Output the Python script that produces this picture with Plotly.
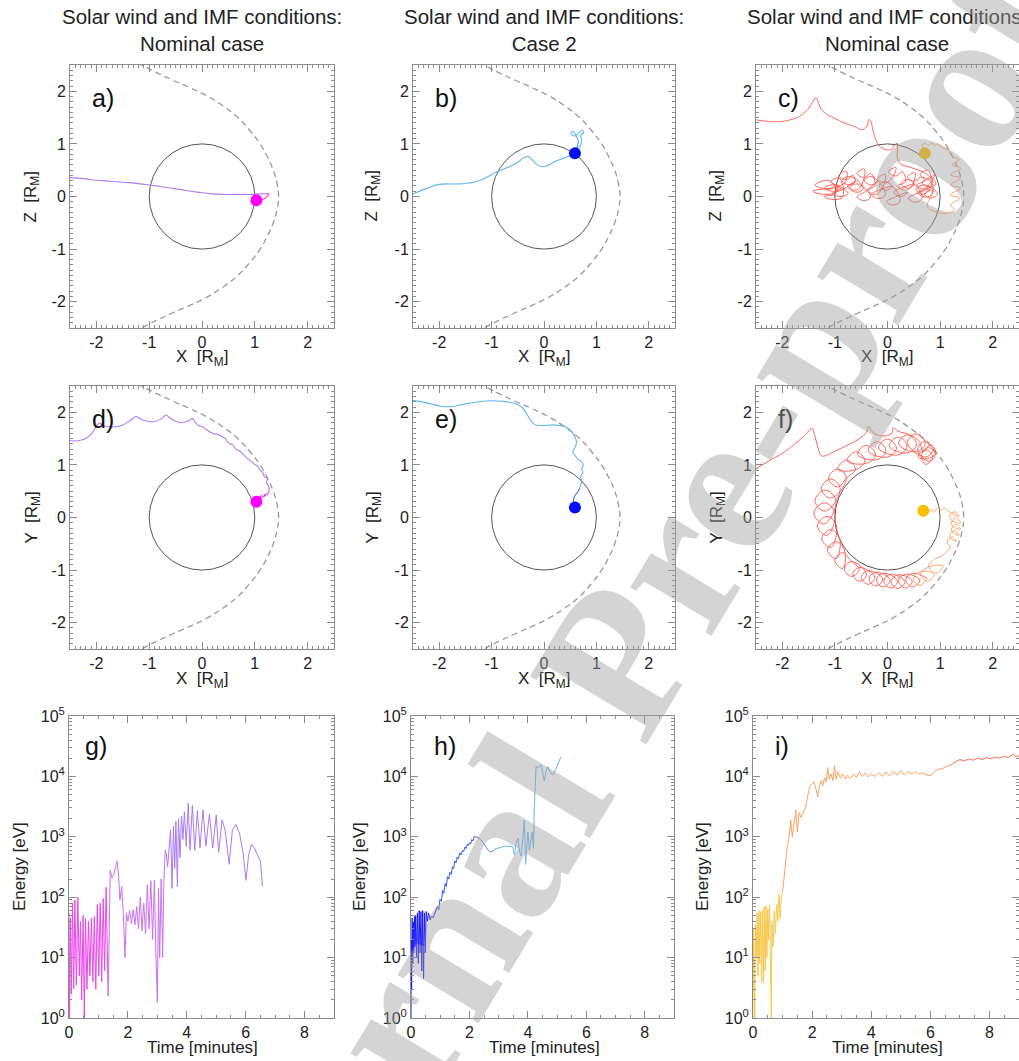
import plotly.graph_objects as go

# ---------------- data ----------------
col_titles = ["Solar wind and IMF conditions:<br>Nominal case",
              "Solar wind and IMF conditions:<br>Case 2",
              "Solar wind and IMF conditions:<br>Nominal case"]
panel_labels = ["a)", "b)", "c)", "d)", "e)", "f)", "g)", "h)", "i)"]
pos_ticks = [-2, -1, 0, 1, 2]
pos_ticklabels = ["-2", "-1", "0", "1", "2"]
time_ticks = [0, 2, 4, 6, 8]
energy_ticks = [1, 10, 100, 1000, 10000, 100000]
energy_ticklabels = ["10<sup>0</sup>", "10<sup>1</sup>", "10<sup>2</sup>",
                     "10<sup>3</sup>", "10<sup>4</sup>", "10<sup>5</sup>"]
planet_r = 1.0

# magnetopause (x, y)
magnetopause = [(-1.30, -2.58), (-1.05, -2.45), (-0.85, -2.35), (-0.55, -2.21), (-0.23, -2.07),
                (0.10, -1.91), (0.40, -1.72), (0.68, -1.50), (0.91, -1.25), (1.10, -1.00),
                (1.24, -0.75), (1.35, -0.50), (1.42, -0.25), (1.45, 0.00), (1.42, 0.25),
                (1.35, 0.50), (1.24, 0.75), (1.10, 1.00), (0.91, 1.25), (0.68, 1.50),
                (0.40, 1.72), (0.10, 1.91), (-0.23, 2.07), (-0.55, 2.21), (-0.85, 2.35),
                (-1.05, 2.45), (-1.30, 2.58)]

# panel a (X, Z) nominal case
a_start = (1.03, -0.07)
a_traj = [(1.03, -0.07), (1.10, -0.07), (1.17, -0.05), (1.22, -0.01), (1.27, 0.04),
          (1.22, 0.05), (1.10, 0.05), (0.95, 0.04), (0.80, 0.04), (0.60, 0.04), (0.40, 0.04),
          (0.20, 0.05), (0.00, 0.07), (-0.20, 0.10), (-0.40, 0.13), (-0.60, 0.16), (-0.80, 0.19),
          (-1.00, 0.22), (-1.25, 0.25), (-1.50, 0.27), (-1.75, 0.29), (-2.00, 0.31),
          (-2.25, 0.34), (-2.52, 0.36)]
# panel d (X, Y) nominal case
d_start = (1.03, 0.30)
d_traj = [(1.03, 0.30), (1.08, 0.38), (1.12, 0.42), (1.10, 0.36), (1.16, 0.40), (1.20, 0.45),
          (1.17, 0.40), (1.23, 0.44), (1.27, 0.50), (1.26, 0.60), (1.22, 0.66), (1.24, 0.74),
          (1.18, 0.78), (1.15, 0.86), (1.10, 0.90), (1.05, 0.98), (0.98, 1.02), (0.92, 1.08),
          (0.86, 1.12), (0.78, 1.20), (0.72, 1.26), (0.64, 1.30), (0.58, 1.38), (0.50, 1.42),
          (0.44, 1.50), (0.32, 1.57), (0.20, 1.60), (0.10, 1.66), (0.02, 1.72), (-0.05, 1.74),
          (-0.12, 1.80), (-0.18, 1.88), (-0.25, 1.84), (-0.40, 1.80), (-0.52, 1.84), (-0.62, 1.90),
          (-0.68, 1.95), (-0.78, 1.87), (-0.92, 1.82), (-1.08, 1.84), (-1.18, 1.88), (-1.25, 1.92),
          (-1.35, 1.85), (-1.50, 1.76), (-1.68, 1.72), (-1.85, 1.74), (-1.95, 1.79), (-2.02, 1.70),
          (-2.10, 1.58), (-2.20, 1.50), (-2.35, 1.46), (-2.52, 1.46)]
# panel b (X, Z) case 2
b_start = (0.59, 0.82)
b_traj = [(0.59, 0.82), (0.62, 0.90), (0.66, 1.05), (0.60, 1.18), (0.55, 1.24), (0.52, 1.20),
          (0.58, 1.15), (0.66, 1.20), (0.72, 1.26), (0.76, 1.22), (0.70, 1.16), (0.72, 1.08),
          (0.70, 0.98), (0.62, 0.85), (0.50, 0.78), (0.35, 0.72), (0.20, 0.66), (0.05, 0.58),
          (-0.05, 0.57), (-0.15, 0.62), (-0.25, 0.72), (-0.30, 0.76), (-0.38, 0.74), (-0.50, 0.65),
          (-0.65, 0.57), (-0.90, 0.47), (-1.10, 0.36), (-1.30, 0.28), (-1.60, 0.24), (-2.00, 0.23),
          (-2.25, 0.15), (-2.52, 0.04)]
# panel e (X, Y) case 2
e_start = (0.59, 0.19)
e_traj = [(0.59, 0.19), (0.56, 0.30), (0.58, 0.40), (0.64, 0.48), (0.68, 0.55), (0.70, 0.62),
          (0.72, 0.70), (0.70, 0.78), (0.74, 0.85), (0.72, 0.92), (0.75, 1.00), (0.72, 1.06),
          (0.66, 1.10), (0.60, 1.17), (0.55, 1.26), (0.60, 1.35), (0.62, 1.45), (0.58, 1.55),
          (0.52, 1.64), (0.42, 1.72), (0.30, 1.75), (0.15, 1.76), (0.00, 1.75), (-0.15, 1.76),
          (-0.22, 1.80), (-0.30, 1.92), (-0.38, 2.05), (-0.47, 2.13), (-0.60, 2.18), (-0.80, 2.21),
          (-1.00, 2.22), (-1.25, 2.20), (-1.50, 2.16), (-1.75, 2.11), (-1.95, 2.11), (-2.20, 2.17),
          (-2.52, 2.23)]
# panel c (X, Z) nominal case, high energy
c_start = (0.71, 0.82)
c_orange = [(0.71, 0.82), (0.68, 0.92), (0.66, 0.98), (0.72, 1.01), (0.78, 0.97), (0.84, 1.02),
            (0.90, 0.97), (0.96, 1.00), (1.04, 0.93), (1.14, 0.89), (1.23, 0.76), (1.36, 0.70),
            (1.23, 0.60), (1.39, 0.54), (1.20, 0.41), (1.39, 0.35), (1.20, 0.22), (1.39, 0.16),
            (1.19, 0.03), (1.38, -0.03), (1.20, -0.16), (1.27, -0.25), (1.08, -0.32), (0.89, -0.28),
            (0.76, -0.19), (0.79, -0.06), (0.85, 0.05)]
c_red = [(0.85, 0.05),
         (0.85, 0.12), (0.70, 0.05), (0.82, -0.03), (0.95, 0.05),
         (0.68, 0.22), (0.55, 0.13), (0.68, 0.04), (0.80, 0.14),
         (0.54, 0.05), (0.40, -0.03), (0.54, -0.11), (0.66, -0.02),
         (0.40, 0.32), (0.26, 0.24), (0.40, 0.16), (0.52, 0.24),
         (0.26, 0.16), (0.12, 0.08), (0.26, 0.00), (0.38, 0.08),
         (0.12, -0.02), (-0.02, -0.10), (0.12, -0.16), (0.24, -0.08),
         (-0.02, 0.28), (-0.16, 0.20), (-0.02, 0.12), (0.10, 0.20),
         (-0.16, 0.12), (-0.30, 0.04), (-0.16, -0.04), (-0.04, 0.04),
         (-0.30, 0.38), (-0.44, 0.30), (-0.30, 0.22), (-0.18, 0.30),
         (-0.44, 0.08), (-0.58, 0.00), (-0.44, -0.08), (-0.32, 0.00),
         (-0.58, 0.24), (-0.72, 0.16), (-0.58, 0.08), (-0.46, 0.16),
         (-0.72, 0.38), (-0.86, 0.30), (-0.72, 0.22), (-0.60, 0.30),
         (-0.88, 0.12), (-1.05, 0.06), (-0.88, 0.00), (-0.75, 0.06),
         (-1.02, 0.22), (-1.20, 0.16), (-1.02, 0.10), (-0.88, 0.16),
         (-1.15, 0.15), (-1.42, 0.10), (-1.15, 0.04), (-0.98, 0.10),
         (-1.10, 0.30), (-1.38, 0.22), (-1.10, 0.14), (-0.95, 0.22),
         (-1.00, 0.05), (-1.20, 0.00), (-1.00, -0.06), (-0.85, 0.00),
         (-0.92, 0.35), (-1.08, 0.28), (-0.92, 0.21), (-0.80, 0.28),
         (-0.78, 0.48), (-0.92, 0.40), (-0.78, 0.32), (-0.66, 0.40),
         (-0.62, 0.28), (-0.76, 0.20), (-0.62, 0.12), (-0.50, 0.20),
         (-0.44, 0.52), (-0.58, 0.44), (-0.44, 0.36), (-0.32, 0.44),
         (-0.24, 0.20), (-0.38, 0.12), (-0.24, 0.04), (-0.12, 0.12),
         (-0.04, 0.42), (-0.18, 0.34), (-0.04, 0.26), (0.08, 0.34),
         (0.16, 0.55), (0.02, 0.47), (0.16, 0.39), (0.28, 0.47),
         (0.34, 0.28), (0.20, 0.20), (0.34, 0.12), (0.46, 0.20),
         (0.52, 0.45), (0.38, 0.37), (0.52, 0.29), (0.64, 0.37),
         (0.70, 0.30), (0.56, 0.22), (0.70, 0.14), (0.84, 0.22),
         (0.76, 0.50), (0.62, 0.42), (0.76, 0.34), (0.90, 0.42),
         (0.72, 0.15), (0.58, 0.07), (0.72, -0.01), (0.86, 0.07),
         (0.80, 0.32), (0.66, 0.26), (0.80, 0.18), (0.92, 0.24),
         (0.70, 0.45), (0.45, 0.55), (0.25, 0.62), (0.19, 0.72), (0.19, 0.90), (0.19, 1.01),
         (0.13, 0.98), (0.06, 0.89), (-0.10, 0.92), (-0.19, 1.01), (-0.28, 1.27), (-0.32, 1.44),
         (-0.36, 1.46), (-0.38, 1.36), (-0.47, 1.27), (-0.63, 1.33), (-0.82, 1.40), (-1.01, 1.49),
         (-1.18, 1.58), (-1.27, 1.68), (-1.32, 1.80), (-1.36, 1.88), (-1.43, 1.78), (-1.52, 1.65),
         (-1.68, 1.52), (-1.84, 1.46), (-2.00, 1.43), (-2.15, 1.42), (-2.30, 1.43), (-2.52, 1.46)]
# panel f (X, Y) nominal case, high energy
f_start = (0.68, 0.13)
f_orange = [(0.68, 0.13), (0.75, 0.08), (0.82, 0.15), (0.88, 0.10), (0.95, 0.18), (1.02, 0.14),
            (1.08, 0.18), (1.16, 0.12),
            (1.36, 0.02), (1.27, 0.11), (1.18, 0.00), (1.27, -0.08),
            (1.39, -0.10), (1.30, -0.01), (1.21, -0.12), (1.30, -0.20),
            (1.39, -0.22), (1.30, -0.13), (1.21, -0.24), (1.30, -0.32),
            (1.36, -0.34), (1.27, -0.25), (1.18, -0.36), (1.27, -0.44),
            (1.31, -0.46), (1.22, -0.37), (1.13, -0.48), (1.20, -0.56),
            (1.12, -0.65), (1.05, -0.72),
            (0.92, -0.78), (0.78, -0.92), (0.92, -1.06), (1.06, -0.92),
            (0.76, -0.95), (0.63, -1.08), (0.76, -1.21), (0.89, -1.08),
            (0.62, -1.03), (0.49, -1.16), (0.62, -1.29), (0.75, -1.16)]
f_red = [(0.75, -1.16),
         (0.48, -1.06), (0.35, -1.19), (0.48, -1.32), (0.61, -1.19),
         (0.34, -1.08), (0.21, -1.21), (0.34, -1.34), (0.47, -1.21),
         (0.20, -1.09), (0.07, -1.22), (0.20, -1.35), (0.33, -1.22),
         (0.06, -1.08), (-0.07, -1.21), (0.06, -1.34), (0.19, -1.21),
         (-0.08, -1.06), (-0.21, -1.19), (-0.08, -1.32), (0.05, -1.19),
         (-0.22, -1.04), (-0.35, -1.17), (-0.22, -1.30), (-0.09, -1.17),
         (-0.37, -1.01), (-0.50, -1.14), (-0.37, -1.27), (-0.24, -1.14),
         (-0.53, -0.95), (-0.66, -1.08), (-0.53, -1.21), (-0.40, -1.08),
         (-0.68, -0.84), (-0.82, -0.98), (-0.68, -1.12), (-0.54, -0.98),
         (-0.70, -0.82), (-0.85, -0.67), (-1.00, -0.82), (-0.85, -0.97),
         (-0.82, -0.62), (-0.98, -0.46), (-1.14, -0.62), (-0.98, -0.78),
         (-0.91, -0.40), (-1.08, -0.23), (-1.25, -0.40), (-1.08, -0.57),
         (-0.97, -0.16), (-1.15, 0.02), (-1.33, -0.16), (-1.15, -0.34),
         (-1.00, 0.08), (-1.20, 0.28), (-1.40, 0.08), (-1.20, -0.12),
         (-0.98, 0.32), (-1.18, 0.52), (-1.38, 0.32), (-1.18, 0.12),
         (-0.90, 0.55), (-1.08, 0.73), (-1.26, 0.55), (-1.08, 0.37),
         (-0.78, 0.75), (-0.95, 0.92), (-1.12, 0.75), (-0.95, 0.58),
         (-0.78, 0.75), (-0.61, 0.92), (-0.78, 1.09), (-0.95, 0.92),
         (-0.60, 0.91), (-0.43, 1.08), (-0.60, 1.25), (-0.77, 1.08),
         (-0.40, 1.03), (-0.23, 1.20), (-0.40, 1.37), (-0.57, 1.20),
         (-0.20, 1.10), (-0.03, 1.27), (-0.20, 1.44), (-0.37, 1.27),
         (0.00, 1.15), (0.17, 1.32), (0.00, 1.49), (-0.17, 1.32),
         (0.20, 1.19), (0.37, 1.36), (0.20, 1.53), (0.03, 1.36),
         (0.38, 1.23), (0.55, 1.40), (0.38, 1.57), (0.21, 1.40),
         (0.55, 1.25), (0.72, 1.42), (0.55, 1.59), (0.38, 1.42),
         (0.72, 1.15), (0.87, 1.30), (0.72, 1.45), (0.57, 1.30),
         (0.78, 1.07), (0.91, 1.20), (0.78, 1.33), (0.65, 1.20),
         (0.72, 1.01), (0.86, 1.15), (0.72, 1.29), (0.58, 1.15),
         (0.80, 1.13), (0.92, 1.25), (0.80, 1.37), (0.68, 1.25),
         (0.60, 1.45), (0.40, 1.58), (0.20, 1.64), (0.11, 1.70), (0.08, 1.60), (-0.10, 1.55),
         (-0.28, 1.62), (-0.36, 1.73), (-0.40, 1.62), (-0.52, 1.51), (-0.75, 1.38), (-0.96, 1.28),
         (-1.12, 1.20), (-1.25, 1.17), (-1.32, 1.32), (-1.38, 1.55), (-1.44, 1.70), (-1.52, 1.62),
         (-1.70, 1.45), (-2.00, 1.22), (-2.25, 1.08), (-2.52, 0.91)]

# energy vs time (minutes, eV)
g_energy = [(0.00, 55), (0.02, 1.0), (0.05, 45), (0.08, 2.5), (0.12, 80), (0.16, 3.0), (0.20, 90),
            (0.25, 3.5), (0.30, 100), (0.35, 5), (0.39, 40), (0.43, 2.0), (0.48, 50), (0.52, 1.0),
            (0.56, 45), (0.61, 3), (0.66, 40), (0.71, 5), (0.76, 45), (0.81, 4), (0.86, 48), (0.91, 3),
            (0.96, 75), (1.01, 5), (1.06, 80), (1.11, 4), (1.16, 95), (1.21, 6), (1.26, 145),
            (1.33, 2.3), (1.40, 280), (1.46, 210), (1.52, 240), (1.57, 300), (1.63, 400), (1.68, 250),
            (1.73, 90), (1.79, 150), (1.84, 60), (1.90, 10), (1.95, 55), (2.00, 40), (2.06, 60),
            (2.12, 36), (2.18, 62), (2.24, 35), (2.30, 70), (2.36, 30), (2.42, 100), (2.48, 28),
            (2.54, 80), (2.60, 25), (2.66, 160), (2.72, 30), (2.78, 185), (2.84, 20), (2.90, 190),
            (2.95, 12), (3.00, 1.8), (3.04, 140), (3.08, 10), (3.13, 200), (3.18, 10), (3.22, 170),
            (3.27, 600), (3.31, 500), (3.35, 320), (3.40, 700), (3.45, 1300), (3.50, 140),
            (3.55, 1500), (3.59, 300), (3.63, 1800), (3.68, 150), (3.72, 2000), (3.77, 450),
            (3.82, 2200), (3.87, 900), (3.92, 2600), (3.98, 700), (4.05, 3600), (4.11, 600),
            (4.19, 3300), (4.27, 600), (4.36, 2700), (4.45, 650), (4.55, 2800), (4.65, 700),
            (4.77, 2400), (4.88, 650), (5.00, 2300), (5.08, 550), (5.20, 1900), (5.30, 1300),
            (5.44, 350), (5.55, 1300), (5.67, 1600), (5.80, 1100), (5.92, 500), (6.01, 190),
            (6.10, 500), (6.20, 750), (6.30, 650), (6.40, 500), (6.50, 400), (6.57, 150)]
h_energy = [(0.00, 1.0), (0.01, 20), (0.02, 3), (0.04, 45), (0.06, 8), (0.08, 40), (0.10, 12),
            (0.12, 48), (0.14, 15), (0.16, 50), (0.19, 10), (0.22, 55), (0.25, 8), (0.28, 60),
            (0.31, 12), (0.34, 58), (0.37, 6), (0.40, 60), (0.43, 4.5), (0.46, 55), (0.49, 12),
            (0.52, 58), (0.56, 40), (0.60, 55), (0.65, 42), (0.70, 48), (0.76, 46), (0.82, 55),
            (0.90, 70), (0.95, 62), (0.99, 92), (1.04, 85), (1.08, 130), (1.12, 115), (1.17, 170),
            (1.21, 150), (1.25, 220), (1.29, 200), (1.33, 260), (1.38, 240), (1.42, 320), (1.46, 300),
            (1.50, 400), (1.54, 370), (1.58, 460), (1.62, 430), (1.67, 540), (1.71, 500), (1.76, 600),
            (1.80, 570), (1.85, 680), (1.89, 640), (1.93, 760), (1.97, 720), (2.00, 800), (2.04, 760),
            (2.08, 900), (2.12, 850), (2.16, 1000), (2.24, 1000), (2.32, 940), (2.40, 880),
            (2.48, 780), (2.56, 680), (2.64, 600), (2.72, 560), (2.80, 580), (2.90, 640), (3.00, 650),
            (3.10, 680), (3.20, 700), (3.30, 700), (3.40, 690), (3.48, 680), (3.54, 500), (3.60, 800),
            (3.66, 950), (3.72, 550), (3.77, 480), (3.82, 900), (3.88, 1900), (3.92, 350),
            (3.96, 800), (4.00, 1200), (4.05, 600), (4.10, 900), (4.15, 1200), (4.19, 650),
            (4.22, 3000), (4.28, 14500), (4.36, 14000), (4.45, 15500), (4.50, 11000), (4.56, 8500),
            (4.62, 12000), (4.68, 14500), (4.75, 12000), (4.85, 10500), (4.95, 13000), (5.05, 17000),
            (5.13, 21000)]
i_energy = [(0.00, 1.0), (0.02, 30), (0.04, 6), (0.06, 1.0), (0.08, 35), (0.11, 10), (0.14, 55),
            (0.17, 5), (0.20, 60), (0.23, 8), (0.26, 58), (0.29, 4), (0.32, 60), (0.35, 3.8),
            (0.38, 70), (0.41, 6), (0.44, 72), (0.47, 10), (0.50, 65), (0.53, 20), (0.56, 75),
            (0.59, 8), (0.62, 1.0), (0.64, 40), (0.68, 15), (0.72, 60), (0.76, 25), (0.80, 75),
            (0.84, 40), (0.88, 110), (0.92, 45), (0.96, 100), (1.00, 120), (1.05, 220), (1.10, 420),
            (1.16, 700), (1.22, 1000), (1.28, 1900), (1.33, 1000), (1.39, 1700), (1.45, 2800),
            (1.50, 1200), (1.56, 2500), (1.62, 2100), (1.70, 2500), (1.79, 3200), (1.86, 5000),
            (1.93, 7000), (2.00, 7600), (2.07, 8200), (2.12, 6500), (2.19, 4600), (2.25, 7000),
            (2.30, 8500), (2.36, 7000), (2.42, 9500), (2.47, 8000), (2.53, 14000), (2.58, 9000),
            (2.64, 11000), (2.70, 8500), (2.76, 15000), (2.81, 9000), (2.88, 12000), (2.95, 9500),
            (3.04, 11000), (3.12, 9000), (3.20, 10500), (3.30, 9200), (3.40, 11000), (3.50, 9600),
            (3.60, 12000), (3.70, 10000), (3.80, 11500), (3.90, 9800), (4.00, 11000), (4.12, 10000),
            (4.25, 11500), (4.38, 10000), (4.50, 11800), (4.62, 10200), (4.75, 12000), (4.88, 10500),
            (5.00, 12500), (5.12, 10500), (5.25, 12000), (5.38, 11000), (5.50, 12000), (5.62, 10800),
            (5.75, 11500), (5.88, 10500), (6.00, 10200), (6.12, 12000), (6.25, 13000), (6.40, 13500),
            (6.55, 14500), (6.70, 15500), (6.85, 17500), (7.00, 19000), (7.15, 18000), (7.30, 19500),
            (7.45, 18500), (7.60, 20000), (7.75, 19000), (7.90, 20500), (8.05, 19500), (8.20, 21000),
            (8.35, 20000), (8.50, 21500), (8.65, 20500), (8.80, 23500), (8.90, 21000), (9.00, 22000)]

watermark = "Journal Pre-proof"

# ---------------- styling ----------------
FONT = "Liberation Sans, Arial, sans-serif"
W, H = 1019, 1061
col_x = [(70, 334), (413, 675), (756, 1019)]
col_x_row3 = [(69, 334), (411, 674), (753, 1019)]
row_y = [(65, 328), (386, 649), (716, 1018)]
AX = "#8c8c8c"

fig = go.Figure()


def px2dom(a, b, total, flip=False):
    if flip:
        return [1 - b / total, 1 - a / total]
    return [a / total, b / total]


def ax_id(n):
    return "" if n == 1 else str(n)


def add_line(n, pts, color, width=1.1, shape="spline", dash=None):
    xs = [p[0] for p in pts]
    ys = [p[1] for p in pts]
    ln = dict(color=color, width=width, shape=shape)
    if shape == "spline":
        ln["smoothing"] = 1.2
    if dash:
        ln["dash"] = dash
    fig.add_trace(go.Scatter(x=xs, y=ys, mode="lines", xaxis="x" + ax_id(n), yaxis="y" + ax_id(n),
                             line=ln, hoverinfo="skip", showlegend=False))


def add_dot(n, p, color):
    fig.add_trace(go.Scatter(x=[p[0]], y=[p[1]], mode="markers", xaxis="x" + ax_id(n),
                             yaxis="y" + ax_id(n), marker=dict(color=color, size=12),
                             hoverinfo="skip", showlegend=False))


def split_at(pts, k):
    return pts[:k + 1], pts[k:]


# spatial panels: 1..6
for n in range(1, 7):
    add_line(n, magnetopause, "#9a9a9a", width=1.3, dash="6px,4px")

# panel a
seg1, seg2 = split_at(a_traj, 5)
add_line(1, seg2, "#b07cf6")
add_line(1, seg1, "#e040f0")
add_dot(1, a_start, "#ff00ff")
# panel b
seg1, seg2 = split_at(b_traj, 2)
add_line(2, seg2, "#5cb8f2")
add_line(2, seg1, "#4a90f0")
add_dot(2, b_start, "#0010f0")
# panel c
add_line(3, c_orange, "#ffa56a", width=1.0)
add_line(3, c_red, "#ff5548", width=0.9)
add_dot(3, c_start, "#f5c000")
# panel d
seg1, seg2 = split_at(d_traj, 8)
add_line(4, seg2, "#b07cf6")
add_line(4, seg1, "#e040f0")
add_dot(4, d_start, "#ff00ff")
# panel e
seg1, seg2 = split_at(e_traj, 4)
add_line(5, seg2, "#5cb8f2")
add_line(5, seg1, "#3a6ff0")
add_dot(5, e_start, "#0010f0")
# panel f
add_line(6, f_orange, "#ffa56a", width=1.0)
add_line(6, f_red, "#ff5548", width=0.9)
add_dot(6, f_start, "#f5c000")


# energy panels
def add_energy(n, pts, cuts, colors):
    idx = [0] + cuts + [len(pts) - 1]
    for j in range(len(colors)):
        seg = pts[idx[j]:idx[j + 1] + 1]
        add_line(n, seg, colors[j], width=1.0, shape="linear")


add_energy(7, g_energy, [29, 64], ["#ee44ee", "#cc70f0", "#a97cf2"])
add_energy(8, h_energy, [28, 60, 66], ["#1a1aff", "#2f5ff0", "#4a90f0", "#62b6f0"])
add_energy(9, i_energy, [32, 96], ["#f6c84a", "#ffa25c", "#ff6a55"])

# axes
layout = dict(width=W, height=H, autosize=False,
              margin=dict(l=0, r=0, t=0, b=0, pad=0, autoexpand=False),
              paper_bgcolor="white", plot_bgcolor="white", showlegend=False,
              font=dict(family=FONT, color="#222"))
for r in range(3):
    for c in range(3):
        n = r * 3 + 1 + c
        xd = col_x_row3[c] if r == 2 else col_x[c]
        common = dict(showline=True, linecolor=AX, linewidth=1, mirror="allticks",
                      ticks="inside", ticklen=7, tickcolor=AX, tickwidth=1, automargin=False,
                      showgrid=False, zeroline=False, tickfont=dict(size=16, family=FONT, color="#222"))
        xa = dict(common, domain=px2dom(xd[0], xd[1], W), anchor="y" + ax_id(n))
        ya = dict(common, domain=px2dom(row_y[r][0], row_y[r][1], H, flip=True), anchor="x" + ax_id(n))
        if r < 2:
            xa.update(range=[-2.5, 2.5], tickvals=pos_ticks, ticktext=pos_ticklabels,
                      minor=dict(dtick=0.1, ticks="inside", ticklen=3, tickcolor=AX))
            ya.update(range=[-2.5, 2.5], tickvals=pos_ticks, ticktext=pos_ticklabels,
                      minor=dict(dtick=0.1, ticks="inside", ticklen=3, tickcolor=AX))
        else:
            xa.update(range=[0, 9], tickvals=time_ticks, ticktext=[str(v) for v in time_ticks],
                      minor=dict(dtick=0.5, ticks="inside", ticklen=3, tickcolor=AX))
            ya.update(type="log", range=[0, 5], tickvals=energy_ticks, ticktext=energy_ticklabels,
                      minor=dict(dtick="D1", ticks="inside", ticklen=3, tickcolor=AX))
        layout["xaxis" + ax_id(n)] = xa
        layout["yaxis" + ax_id(n)] = ya

annotations = []
col_centers = [202, 544, 887]
for c in range(3):
    annotations.append(dict(text=col_titles[c], x=col_centers[c] / W, y=1 - 3 / H, xref="paper",
                            yref="paper", xanchor="center", yanchor="top", showarrow=False,
                            font=dict(size=20.5, family=FONT, color="#222")))
    for r, lab in enumerate(["X  [R<sub>M</sub>]", "X  [R<sub>M</sub>]", "Time [minutes]"]):
        yy = [358, 680, 1047][r]
        annotations.append(dict(text=lab, x=col_centers[c] / W, y=1 - yy / H, xref="paper",
                                yref="paper", xanchor="center", yanchor="middle", showarrow=False,
                                font=dict(size=17, family=FONT, color="#222")))
    ytx = [[32, 373, 717], [32, 373, 717], [19, 359, 702]]
    for r, lab in enumerate(["Z  [R<sub>M</sub>]", "Y  [R<sub>M</sub>]", "Energy [eV]"]):
        yc = (row_y[r][0] + row_y[r][1]) / 2
        annotations.append(dict(text=lab, x=ytx[r][c] / W, y=1 - yc / H, xref="paper",
                                yref="paper", xanchor="center", yanchor="middle", showarrow=False,
                                textangle=-90, font=dict(size=17, family=FONT, color="#222")))
for n in range(1, 10):
    if n <= 6:
        lx, ly = -2.12, 1.87
    else:
        lx, ly = [0.48, 0.72, 0.68][n - 7], 4.5
    annotations.append(dict(text=panel_labels[n - 1], x=lx, y=ly, xref="x" + ax_id(n),
                            yref="y" + ax_id(n), xanchor="left", yanchor="middle", showarrow=False,
                            font=dict(size=25, family=FONT, color="#111")))
annotations.append(dict(text="<b>" + watermark + "</b>", x=613 / W, y=1 - 664 / H, xref="paper",
                        yref="paper", xanchor="center", yanchor="middle", showarrow=False,
                        textangle=-59,
                        font=dict(size=206, family="Liberation Serif, Times New Roman, serif",
                                  color="rgba(160,160,160,0.45)")))
layout["annotations"] = annotations

# planet circles
shapes = []
for n in range(1, 7):
    shapes.append(dict(type="circle", xref="x" + ax_id(n), yref="y" + ax_id(n),
                       x0=-planet_r, x1=planet_r, y0=-planet_r, y1=planet_r,
                       line=dict(color="#555", width=1), layer="below"))
layout["shapes"] = shapes

fig.update_layout(**layout)
fig.write_html("out.html", config={"displayModeBar": False, "staticPlot": True},
               post_script="document.body.style.margin='0px';document.body.style.overflow='hidden';")
